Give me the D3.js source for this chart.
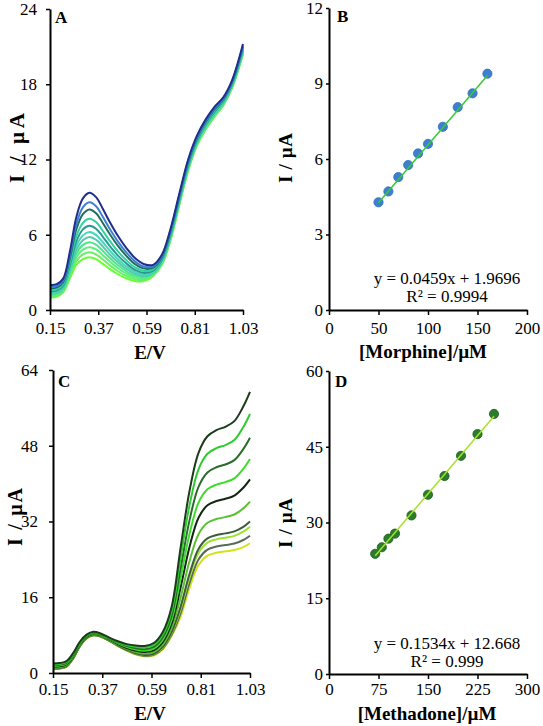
<!DOCTYPE html>
<html><head><meta charset="utf-8">
<script src="https://cdn.jsdelivr.net/npm/d3@7"></script>
<style>
html,body{margin:0;padding:0;background:#fff;}
svg{display:block;}
text{font-family:"Liberation Serif","Times New Roman",serif;fill:#000;}
</style></head>
<body>
<svg id="chart" width="543" height="726"></svg>
<script>
// ---------- DATA ----------
// Panel A: DPV curves (morphine), potential grid and currents (top -> bottom)
const eA = [0.15,0.18,0.21,0.24,0.27,0.30,0.33,0.36,0.39,0.42,0.46,0.50,0.54,0.58,0.62,0.66,0.70,0.74,0.78,0.82,0.86,0.90,0.94,0.98,1.03];
const curvesA = [
 [2.00,2.05,2.50,4.60,7.40,8.90,9.35,9.00,8.10,7.10,5.90,4.90,4.10,3.65,3.60,4.40,6.50,9.30,12.00,13.90,15.20,16.20,16.95,18.30,21.20],
 [1.85,1.90,2.34,4.29,6.84,8.19,8.59,8.27,7.45,6.54,5.45,4.55,3.84,3.45,3.47,4.28,6.37,9.17,11.87,13.78,15.08,16.08,16.85,18.21,21.08],
 [1.74,1.79,2.22,4.06,6.42,7.64,8.02,7.72,6.96,6.12,5.11,4.28,3.63,3.30,3.37,4.19,6.27,9.07,11.77,13.69,14.99,15.99,16.78,18.15,20.99],
 [1.60,1.65,2.06,3.76,5.87,6.95,7.28,7.01,6.33,5.57,4.67,3.94,3.38,3.11,3.24,4.08,6.14,8.94,11.64,13.58,14.88,15.88,16.69,18.06,20.88],
 [1.49,1.54,1.94,3.53,5.46,6.43,6.72,6.48,5.86,5.16,4.34,3.68,3.18,2.96,3.14,3.99,6.04,8.84,11.54,13.49,14.79,15.79,16.62,17.99,20.79],
 [1.39,1.44,1.83,3.32,5.09,5.95,6.22,5.99,5.42,4.79,4.05,3.44,3.01,2.83,3.05,3.91,5.95,8.75,11.45,13.41,14.71,15.71,16.56,17.94,20.71],
 [1.31,1.36,1.75,3.16,4.79,5.57,5.82,5.60,5.08,4.49,3.81,3.25,2.87,2.72,2.98,3.85,5.88,8.68,11.38,13.35,14.65,15.65,16.50,17.89,20.65],
 [1.24,1.29,1.66,2.99,4.49,5.19,5.41,5.21,4.73,4.19,3.57,3.06,2.72,2.62,2.91,3.79,5.81,8.61,11.31,13.29,14.59,15.59,16.45,17.84,20.59],
 [1.16,1.21,1.57,2.83,4.20,4.81,5.01,4.83,4.39,3.90,3.33,2.88,2.58,2.51,2.84,3.73,5.74,8.54,11.24,13.23,14.53,15.53,16.40,17.79,20.53],
 [1.08,1.13,1.49,2.66,3.90,4.43,4.60,4.44,4.04,3.60,3.09,2.69,2.44,2.41,2.77,3.66,5.67,8.47,11.17,13.16,14.46,15.46,16.35,17.75,20.46],
 [1.00,1.05,1.40,2.50,3.60,4.05,4.20,4.05,3.70,3.30,2.85,2.50,2.30,2.30,2.70,3.60,5.60,8.40,11.10,13.10,14.40,15.40,16.30,17.70,20.40]
];
const coloursA = ["#1f2e8c","#3d7fd4","#1f6e5a","#2fd2a0","#2a9a90","#45d8b8","#55c8b0","#4de68a","#5cee7c","#6af060","#66ff33"];

// Panel B: calibration morphine
const concB = [50,60,70,80,90,100,115,130,145,160];
const currB = [4.28,4.71,5.28,5.76,6.22,6.60,7.28,8.06,8.61,9.39];
const fitB = [0.0459, 1.9696];
const eqB = ["y = 0.0459x + 1.9696", "R² = 0.9994"];

// Panel C: DPV curves (methadone), top -> bottom
const eC = [0.15,0.18,0.21,0.24,0.27,0.30,0.33,0.36,0.40,0.44,0.48,0.52,0.56,0.60,0.64,0.68,0.72,0.76,0.80,0.84,0.88,0.92,0.96,1.00,1.03];
const curvesC = [
 [2.00,2.10,2.50,4.20,6.60,8.10,8.70,8.40,7.50,6.70,6.10,5.80,5.70,6.30,8.60,14.00,26.50,38.50,46.50,50.00,51.30,52.00,53.20,56.30,59.40],
 [1.82,1.92,2.32,4.02,6.45,7.98,8.58,8.30,7.40,6.55,5.89,5.52,5.38,5.92,8.07,13.09,24.35,35.49,43.02,46.30,47.49,48.13,49.20,51.93,54.70],
 [1.64,1.74,2.14,3.84,6.30,7.86,8.46,8.19,7.29,6.40,5.68,5.22,5.03,5.51,7.51,12.12,22.08,32.29,39.32,42.36,43.45,44.03,44.96,47.30,49.70],
 [1.47,1.57,1.97,3.67,6.16,7.75,8.35,8.09,7.19,6.26,5.48,4.96,4.72,5.15,7.00,11.25,20.02,29.40,35.98,38.81,39.80,40.32,41.12,43.11,45.19],
 [1.31,1.41,1.81,3.51,6.02,7.64,8.24,8.00,7.10,6.12,5.29,4.70,4.43,4.80,6.52,10.42,18.06,26.65,32.80,35.43,36.33,36.80,37.48,39.13,40.90],
 [1.13,1.23,1.63,3.33,5.88,7.52,8.12,7.89,6.99,5.98,5.09,4.42,4.11,4.42,5.99,9.51,15.92,23.64,29.32,31.73,32.52,32.93,33.48,34.77,36.20],
 [0.97,1.07,1.47,3.17,5.74,7.42,8.02,7.80,6.90,5.84,4.90,4.17,3.82,4.07,5.52,8.69,14.00,20.95,26.21,28.43,29.13,29.49,29.92,30.88,32.01],
 [0.93,1.03,1.43,3.13,5.71,7.39,7.99,7.78,6.88,5.81,4.85,4.11,3.74,3.98,5.39,8.48,13.49,20.23,25.38,27.55,28.22,28.57,28.97,29.84,30.89],
 [0.86,0.96,1.36,3.06,5.65,7.34,7.94,7.74,6.84,5.75,4.77,4.00,3.61,3.83,5.18,8.11,12.63,19.03,23.99,26.06,26.70,27.02,27.36,28.09,29.00],
 [0.80,0.90,1.30,3.00,5.60,7.30,7.90,7.70,6.80,5.70,4.70,3.90,3.50,3.70,5.00,7.80,11.90,18.00,22.80,24.80,25.40,25.70,26.00,26.60,27.40]
];
const coloursC = ["#1b3b1b","#2ecc2e","#2b6b2b","#3ddd2a","#132613","#5cc030","#3c5c3c","#9be330","#5a6a5a","#cfe51a"];

// Panel D: calibration methadone
const concD = [70,80,90,100,125,150,175,200,225,250];
const currD = [23.8,25.1,26.8,27.8,31.4,35.5,39.2,43.2,47.5,51.5];
const fitD = [0.1534, 12.668];
const eqD = ["y = 0.1534x + 12.668", "R² = 0.999"];

// Tick values
const ticksE = [0.15,0.37,0.59,0.81,1.03];
const ticksYA = [0,6,12,18,24];
const ticksXB = [0,50,100,150,200];
const ticksYB = [0,3,6,9,12];
const ticksYC = [0,16,32,48,64];
const ticksXD = [0,75,150,225,300];
const ticksYD = [0,15,30,45,60];

const panelLetters = ["A","B","C","D"];
const xTitles = ["E/V","[Morphine]/µM","E/V","[Methadone]/µM"];
const yTitle = "I / µA";

// ---------- DRAW ----------
const svg = d3.select("#chart");

function panel(cfg){
  const g = svg.append("g");
  const x = d3.scaleLinear().domain(cfg.xd).range(cfg.xr);
  const y = d3.scaleLinear().domain(cfg.yd).range(cfg.yr);

  cfg.draw(g, x, y);

  const ax = g.append("g").attr("transform", `translate(0,${cfg.yr[0]})`)
    .call(d3.axisBottom(x).tickValues(cfg.xt).tickSize(5).tickSizeOuter(0).tickPadding(cfg.xpad)
      .tickFormat(cfg.xf));
  const ay = g.append("g").attr("transform", `translate(${cfg.xr[0]},0)`)
    .call(d3.axisLeft(y).tickValues(cfg.yt).tickSize(cfg.ytick).tickSizeOuter(0).tickPadding(cfg.ypad)
      .tickFormat(d3.format("d")));
  [ax, ay].forEach(a => {
    a.select(".domain").attr("stroke","#000").attr("stroke-width",2);
    a.selectAll(".tick line").attr("stroke","#000").attr("stroke-width",1.5);
    a.selectAll(".tick text").attr("font-family","Liberation Serif, serif")
      .attr("font-size",17).attr("fill","#000");
  });

  g.append("text").attr("x", cfg.lx).attr("y", cfg.ly)
    .attr("font-size",17).attr("font-weight","bold").text(cfg.letter);
  g.append("text").attr("x", cfg.tx).attr("y", cfg.ty).attr("text-anchor","middle")
    .attr("font-size",19).attr("font-weight","bold").text(cfg.xtitle);
  g.append("text").attr("transform", `translate(${cfg.yx},${cfg.yy}) rotate(-90)`)
    .attr("text-anchor","middle").attr("dominant-baseline","central")
    .attr("font-size",cfg.yfs).attr("font-weight","bold")
    .attr("textLength", cfg.ylen).attr("lengthAdjust","spacing").text(yTitle);
}

function drawCurves(E, curves, colours){
  return (g, x, y) => {
    const line = d3.line().x((d,i)=>x(E[i])).y(d=>y(d)).curve(d3.curveCatmullRom.alpha(0.5));
    curves.slice().reverse().forEach((c, j) => {
      const k = curves.length - 1 - j;
      g.append("path").datum(c).attr("d", line).attr("fill","none")
        .attr("stroke", colours[k]).attr("stroke-width", 2);
    });
  };
}

function drawCalib(conc, curr, fit, eq, dotColour, dotStroke, lineColour, eqx, eqy){
  return (g, x, y) => {
    const x0 = d3.min(conc), x1 = d3.max(conc);
    g.selectAll("circle.pt").data(conc).join("circle").attr("class","pt")
      .attr("cx", d=>x(d)).attr("cy", (d,i)=>y(curr[i])).attr("r", 4.6)
      .attr("fill", dotColour).attr("stroke", dotStroke).attr("stroke-width", 0.8);
    g.append("line").attr("x1", x(x0)).attr("y1", y(fit[0]*x0+fit[1]))
      .attr("x2", x(x1)).attr("y2", y(fit[0]*x1+fit[1]))
      .attr("stroke", lineColour).attr("stroke-width", 1.5);
    eq.forEach((t,i) => {
      g.append("text").attr("x", eqx).attr("y", eqy + i*18).attr("text-anchor","middle")
        .attr("font-size",17).text(t);
    });
  };
}

const fmtE = d3.format(".2f");
const fmtI = d3.format("d");

panel({xd:[0.15,1.03], xr:[50,243], yd:[0,24], yr:[310,9], xt:ticksE, yt:ticksYA, xf:fmtE, xpad:7,
  ytick:4, ypad:9, letter:panelLetters[0], lx:55, ly:23, xtitle:xTitles[0], tx:150, ty:359,
  yx:17, yy:148, ylen:70, yfs:21, draw:drawCurves(eA, curvesA, coloursA)});

panel({xd:[0,200], xr:[329,527], yd:[0,12], yr:[310,8], xt:ticksXB, yt:ticksYB, xf:fmtI, xpad:7,
  ytick:3, ypad:3, letter:panelLetters[1], lx:337, ly:22, xtitle:xTitles[1], tx:423, ty:358,
  yx:285, yy:158, ylen:50, yfs:19,
  draw:drawCalib(concB, currB, fitB, eqB, "#3f7fcf", "#2f6fbf", "#33cc33", 447, 284)});

panel({xd:[0.15,1.03], xr:[53,250], yd:[0,64], yr:[673,370], xt:ticksE, yt:ticksYC, xf:fmtE, xpad:5,
  ytick:4, ypad:11, letter:panelLetters[2], lx:58, ly:387, xtitle:xTitles[2], tx:150, ty:720,
  yx:15, yy:517, ylen:58, yfs:20, draw:drawCurves(eC, curvesC, coloursC)});

panel({xd:[0,300], xr:[329,527], yd:[0,60], yr:[674,371], xt:ticksXD, yt:ticksYD, xf:fmtI, xpad:4,
  ytick:3, ypad:3, letter:panelLetters[3], lx:335, ly:387, xtitle:xTitles[3], tx:427, ty:720,
  yx:285, yy:523, ylen:50, yfs:19,
  draw:drawCalib(concD, currD, fitD, eqD, "#2a7d2a", "#1c5c1c", "#a6e22a", 447, 649)});
</script>
</body></html>
